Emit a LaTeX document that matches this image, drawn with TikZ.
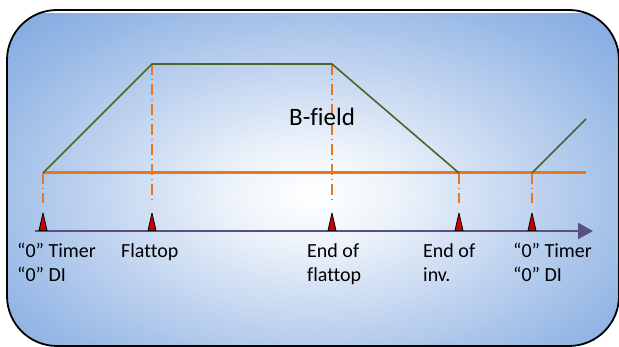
\documentclass[tikz,border=0pt]{standalone}
\usepackage{fontspec}
\setmainfont[Ligatures=CommonOff]{Carlito}
\usetikzlibrary{arrows.meta,positioning,calc}
\definecolor{bgblue}{RGB}{82,137,211}
\definecolor{glowa}{RGB}{240,245,251}
\definecolor{glowb}{RGB}{196,214,240}
\definecolor{glowc}{RGB}{152,185,230}
\definecolor{glowd}{RGB}{118,162,222}
\definecolor{fieldgreen}{RGB}{79,98,40}
\definecolor{levelorange}{RGB}{232,119,34}
\definecolor{axispurple}{RGB}{90,80,128}
\definecolor{tickred}{RGB}{204,0,0}
\pgfdeclareradialshading{glow}{\pgfpoint{0bp}{0bp}}{color(0bp)=(white); color(6bp)=(glowa); color(17bp)=(glowb); color(28bp)=(glowc); color(39bp)=(glowd); color(50bp)=(bgblue)}

\begin{document}
\begin{tikzpicture}[x=1pt,y=-1pt,
    field/.style={draw=fieldgreen, line width=1.6pt},
    level/.style={draw=levelorange, line width=3pt},
    guide/.style={draw=levelorange, line width=1.2pt, dash pattern=on 11pt off 4pt on 1pt off 4pt, shorten >=10pt},
    tickmark/.style={fill=tickred, draw=black, line width=0.8pt, line join=round},
    lbl/.style={anchor=base west, align=left, inner sep=0pt, font=\fontsize{20}{24}\selectfont}]
    \useasboundingbox (0,0) rectangle (619,347);

    % 背景
    \begin{scope}
        \clip[rounded corners=50pt] (7,10) rectangle (619,346);
        \shade[shading=glow] (7,14) rectangle (619,376);
    \end{scope}
    \draw[black, line width=1.8pt, rounded corners=50pt] (7,10) rectangle (619,346);

    % 关键点
    \coordinate (s0) at (43,173);
    \coordinate (f1) at (152,64);
    \coordinate (f2) at (332,64);
    \coordinate (s1) at (459,173);
    \coordinate (s2) at (532,173);
    \coordinate (up) at (586,119);
    \coordinate (lvlend) at (586,173);
    \coordinate (ax0) at (35,231);
    \coordinate (ax1) at (593,231);

    % 时间轴
    \draw[axispurple, line width=2pt, -{Triangle[length=15pt,width=16pt]}] (ax0) -- (ax1);
    \foreach \x/\n in {43/k0,152/k1,332/k2,459/k3,532/k4}{
        \filldraw[tickmark] (\x-4,230.5) -- (\x,213) -- (\x+4,230.5) -- cycle;
        \coordinate (\n) at (\x,213);
    }

    % 虚线
    \draw[guide] (s0) -- (k0);
    \draw[guide] (f1) -- (k1);
    \draw[guide] (f2) -- (k2);
    \draw[guide] (s1) -- (k3);
    \draw[guide] (s2) -- (k4);

    % 零线和磁场
    \draw[level] (s0) -- (lvlend);
    \draw[field] (s0) -- (f1) -- (f2) -- (s1);
    \draw[field] (s2) -- (up);
    \node[anchor=base west, inner sep=0pt, font=\fontsize{25}{30}\selectfont] (bfield) at (289,126) {B-field};

    % 标签 (多行时 base 为末行)
    \node[lbl] (lzero) at (17,282) {“0” Timer\\“0” DI};
    \node[lbl] (lflat) at (121,258) {Flattop};
    \node[lbl] (lend) at (307,282) {End of\\flattop};
    \node[lbl] (linv) at (423,282) {End of\\inv.};
    \node[lbl] (lzero2) at (513,282) {“0” Timer\\“0” DI};
\end{tikzpicture}
\end{document}
